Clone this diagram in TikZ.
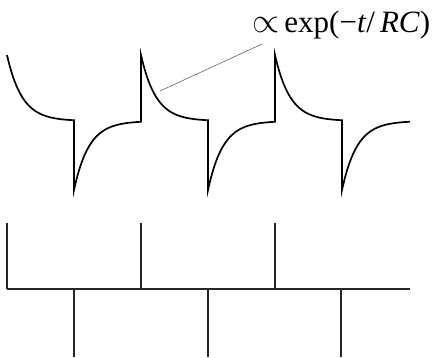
\documentclass[tikz,border=0pt]{standalone}
\usepackage{fontspec}
\setmainfont{Liberation Serif}
\begin{document}
\begin{tikzpicture}[x=1pt,y=-1pt,
  wave/.style={line width=1.7pt,black,line join=miter},
  comb/.style={line width=1.7pt,black!85},
  leader/.style={line width=0.6pt,black!60},
  lbl/.style={inner sep=0pt,anchor=base west,font=\fontsize{31}{34}\selectfont}]
\useasboundingbox (0,0) rectangle (443,357);
% top waveform
\draw[wave] plot[domain=0:67,samples=50] ({7+\x},{121-66*exp(-\x/15)})
  -- plot[domain=0:67,samples=50] ({74+\x},{121+69*exp(-\x/15)})
  -- plot[domain=0:67,samples=50] ({141+\x},{121-66*exp(-\x/15)})
  -- plot[domain=0:67,samples=50] ({208+\x},{121+69*exp(-\x/15)})
  -- plot[domain=0:67,samples=50] ({275+\x},{121-66*exp(-\x/15)})
  -- plot[domain=0:68,samples=50] ({342+\x},{121+69*exp(-\x/15)});
% label
\node[lbl] (lab) at (252,32) {\scalebox{1.4}{$\propto$}\,exp(−\textit{t}/\,\textit{RC})};
\coordinate (c1) at (160,91);
\coordinate (c2) at (262,44);
\draw[leader] (c1) -- (c2);
% bottom comb
\draw[comb] (7,289.3) -- (410,289.3);
\foreach \x in {7,141,274.7} \draw[comb] (\x,222.7) -- (\x,289.3);
\foreach \x in {74,207.7,340.7} \draw[comb] (\x,289.3) -- (\x,357);
\end{tikzpicture}
\end{document}
